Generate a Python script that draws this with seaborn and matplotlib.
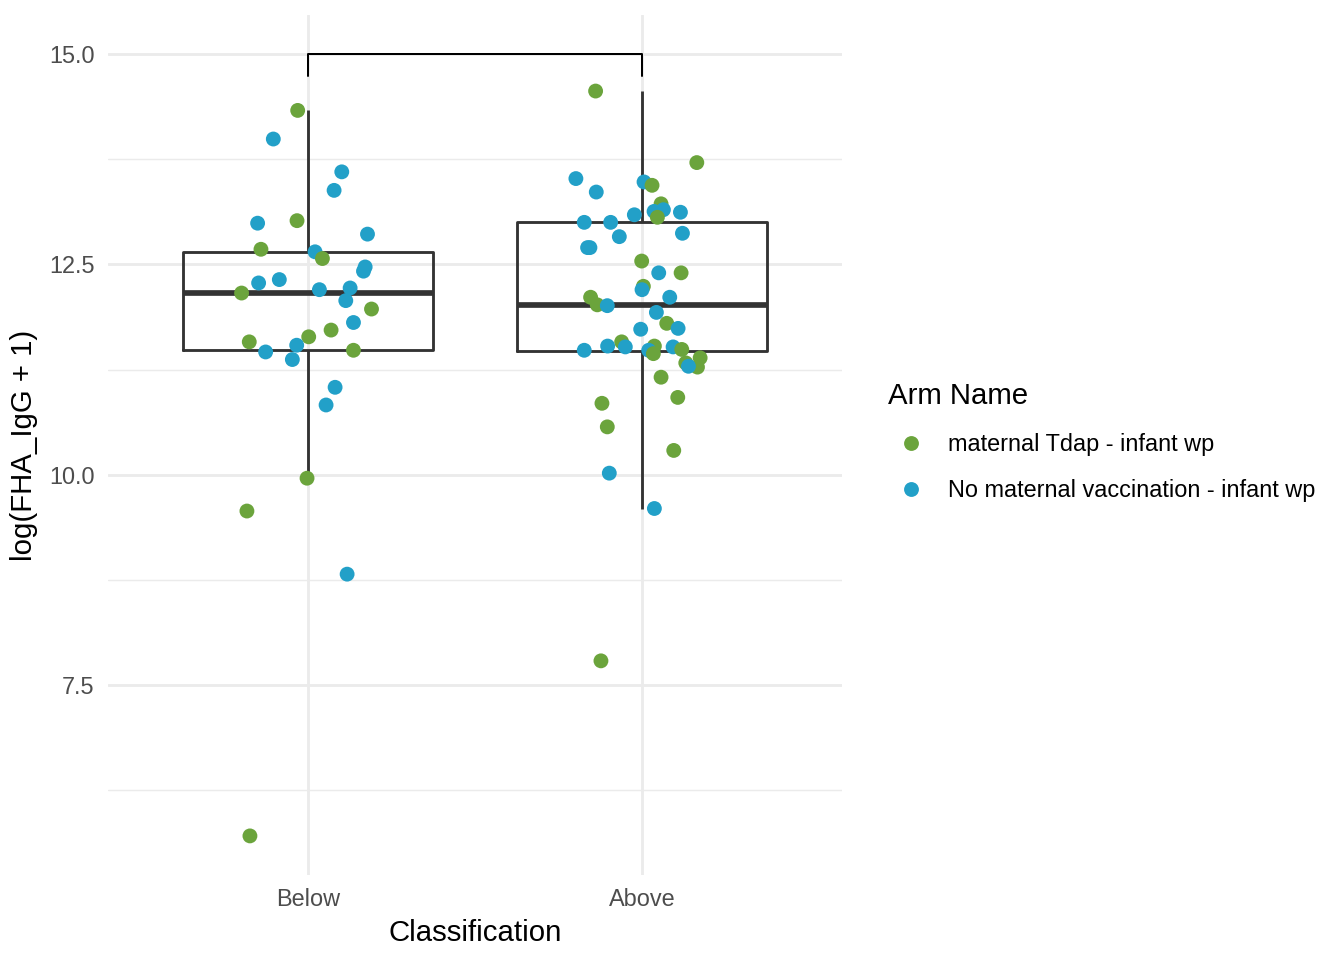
import matplotlib
matplotlib.use("Agg")
import matplotlib.pyplot as plt
import numpy as np
import pandas as pd
import seaborn as sns

# ── data ─────────────────────────────────────────────────────────────────────
CLASSES = ["Below", "Above"]
ARMS = ["maternal Tdap - infant wp", "No maternal vaccination - infant wp"]
COLORS = ["#6BA43C", "#22A0C8"]

# g = maternal Tdap, b = no maternal vaccination
below_val = [14.33, 13.99, 13.60, 13.38, 12.99, 13.02, 12.86, 12.68, 12.65, 12.57,
             12.47, 12.42, 12.32, 12.28, 12.16, 12.20, 12.22, 12.07, 11.97, 11.81,
             11.72, 11.64, 11.54, 11.58, 11.46, 11.48, 11.37, 11.04, 10.83, 9.96,
             9.57, 8.82, 5.71]
below_arm = "gbbbbgbgbg" "bbbbgbbbgb" "ggbgbgbbbg" "gbg"
below_jit = [-0.031, -0.104, 0.101, 0.078, -0.151, -0.033, 0.178, -0.141, 0.021, 0.043,
             0.171, 0.166, -0.086, -0.148, -0.199, 0.034, 0.126, 0.113, 0.190, 0.136,
             0.069, 0.002, -0.034, -0.176, -0.127, 0.136, -0.047, 0.081, 0.054, -0.003,
             -0.183, 0.117, -0.174]

above_val = [14.56, 13.71, 13.52, 13.48, 13.44, 13.36, 13.22, 13.09, 13.13, 13.15,
             13.06, 13.12, 13.00, 13.00, 12.87, 12.83, 12.70, 12.70, 12.54, 12.40,
             12.40, 12.24, 12.20, 12.11, 12.11, 12.02, 12.01, 11.93, 11.80, 11.74,
             11.73, 11.58, 11.48, 11.53, 11.52, 11.53, 11.48, 11.44, 11.52, 11.49,
             11.39, 11.33, 11.28, 11.29, 11.16, 10.92, 10.85, 10.57, 10.29, 10.02,
             9.60, 7.79]
above_arm = "ggbbgbgbbb" "gbbbbbbbgb" "ggbbggbbgb" "bgbbbgbgbg" "gggbgggggb" "bg"
above_jit = [-0.139, 0.164, -0.198, 0.006, 0.030, -0.137, 0.057, -0.023, 0.036, 0.064,
             0.046, 0.115, -0.173, -0.094, 0.121, -0.068, -0.163, -0.156, -0.001, 0.050,
             0.117, 0.004, 0.000, 0.083, -0.154, -0.134, -0.104, 0.043, 0.074, 0.108,
             -0.004, -0.061, -0.173, -0.103, -0.050, 0.037, 0.020, 0.034, 0.093, 0.119,
             0.174, 0.131, 0.166, 0.139, 0.057, 0.107, -0.120, -0.104, 0.095, -0.098,
             0.037, -0.123]

BRACKET_Y = 15.0
BRACKET_TIP = 14.74

arm_map = {"g": ARMS[0], "b": ARMS[1]}
df = pd.DataFrame({
    "Classification": ["Below"] * len(below_val) + ["Above"] * len(above_val),
    "value": below_val + above_val,
    "Arm Name": [arm_map[c] for c in below_arm + above_arm],
    "jit": below_jit + above_jit,
})
df["xpos"] = df["Classification"].map({c: i for i, c in enumerate(CLASSES)}) + df["jit"]

# ── figure ───────────────────────────────────────────────────────────────────
sns.set_theme(style="white")
plt.rcParams["font.family"] = ["Liberation Sans", "DejaVu Sans"]

fig = plt.figure(figsize=(7, 5), dpi=192)
ax = fig.add_axes([0.0801, 0.0885, 0.5467, 0.896])

sns.boxplot(data=df, x="Classification", y="value", order=CLASSES, fill=False,
            color="#333333", linecolor="#333333", width=0.75, showfliers=False,
            showcaps=False, linewidth=1.07,
            medianprops=dict(linewidth=2.13, color="#333333"), ax=ax)
sns.scatterplot(data=df, x="xpos", y="value", hue="Arm Name", hue_order=ARMS,
                palette=COLORS, s=31, linewidth=0, zorder=3, ax=ax)

# significance bracket
ax.plot([0, 0, 1, 1], [BRACKET_TIP, BRACKET_Y, BRACKET_Y, BRACKET_TIP],
        color="black", lw=0.75, zorder=4)

ax.set_xlim(-0.6, 1.6)
ax.set_ylim(5.245, 15.465)
ax.set_xticks([0, 1])
ax.set_xticklabels(CLASSES)
ax.set_yticks([7.5, 10.0, 12.5, 15.0])
ax.set_yticklabels(["7.5", "10.0", "12.5", "15.0"])
ax.set_yticks([6.25, 8.75, 11.25, 13.75], minor=True)
ax.grid(True, which="major", color="#EBEBEB", lw=1.07)
ax.grid(True, which="minor", axis="y", color="#EBEBEB", lw=0.53)
ax.set_axisbelow(True)
for s in ax.spines.values():
    s.set_visible(False)
ax.tick_params(axis="both", which="both", length=0, labelsize=8.8,
               labelcolor="#4D4D4D", pad=5)
ax.set_xlabel("Classification", fontsize=11, color="black", labelpad=3)
ax.set_ylabel("log(FHA_IgG + 1)", fontsize=11, color="black", labelpad=4)

handles, labels = ax.get_legend_handles_labels()
ax.get_legend().remove()
leg = fig.legend(handles, labels, title="Arm Name", loc="center left",
                 bbox_to_anchor=(0.6518, 0.5396), frameon=False, fontsize=8.8,
                 title_fontsize=11, borderpad=0, handlelength=2.0,
                 handletextpad=0.55, labelspacing=0.98, markerscale=1.0,
                 labelcolor="black")
leg.get_title().set_color("black")
leg._legend_box.align = "left"

fig.savefig("out.png", dpi=192)
